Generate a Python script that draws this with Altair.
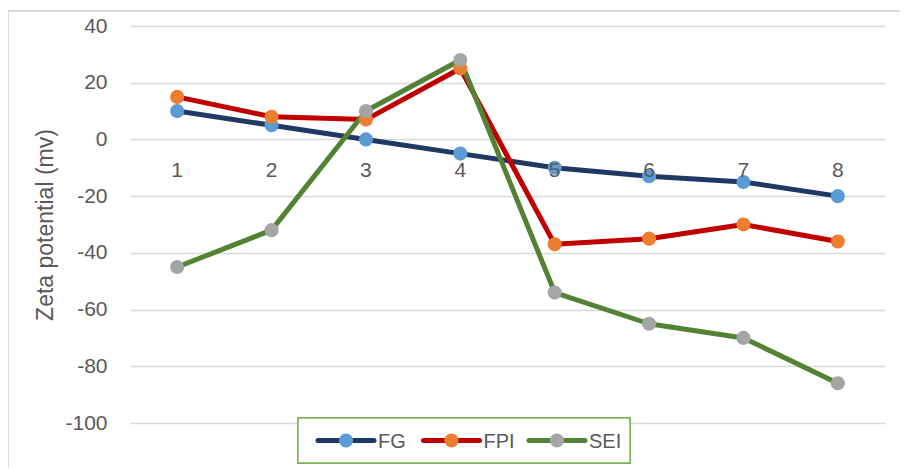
import altair as alt
import pandas as pd

categories = ["1", "2", "3", "4", "5", "6", "7", "8"]
fg = [10, 5, 0, -5, -10, -13, -15, -20]
fpi = [15, 8, 7, 25, -37, -35, -30, -36]
sei = [-45, -32, 10, 28, -54, -65, -70, -86]
series_names = ["FG", "FPI", "SEI"]
line_colors = ["#1f3864", "#c00000", "#548235"]
marker_colors = ["#5b9bd5", "#ed7d31", "#a5a5a5"]
y_ticks = [-100, -80, -60, -40, -20, 0, 20, 40]

rows = []
for name, vals in zip(series_names, [fg, fpi, sei]):
    for i, (c, v) in enumerate(zip(categories, vals)):
        rows.append({"cat": c, "series": name, "value": v, "order": i})
df = pd.DataFrame(rows)
cat_df = pd.DataFrame({"cat": categories})
leg_df = pd.DataFrame({"series": series_names})

W, H = 755, 397
FONT = "Liberation Sans"
GREY = "#595959"

x_enc = alt.X("cat:N", sort=categories, axis=None,
              scale=alt.Scale(paddingInner=0, paddingOuter=0))
y_scale = alt.Scale(domain=[-100, 40], nice=False)
line_scale = alt.Scale(domain=series_names, range=line_colors)
marker_scale = alt.Scale(domain=series_names, range=marker_colors)

base = alt.Chart(df)

lines = base.mark_line(strokeWidth=5, strokeCap="round", strokeJoin="round").encode(
    x=x_enc,
    y=alt.Y("value:Q", scale=y_scale,
            axis=alt.Axis(values=y_ticks, grid=True, gridColor="#d9d9d9", gridWidth=1.5,
                          domain=False, ticks=False, tickSize=0, labelPadding=23,
                          labelExpr="'' + datum.value",
                          labelFontSize=21, labelColor=GREY, labelFont=FONT,
                          title="Zeta potential (mv)", titleFontSize=23,
                          titleFontWeight="normal", titleColor=GREY, titleFont=FONT,
                          titlePadding=7)),
    color=alt.Color("series:N", scale=line_scale, legend=None),
    detail="series:N",
    order="order:Q",
)

points = base.mark_point(filled=True, size=200, opacity=1, strokeWidth=0).encode(
    x=x_enc,
    y=alt.Y("value:Q", scale=y_scale),
    fill=alt.Fill("series:N", scale=marker_scale, legend=None),
)

labels = alt.Chart(cat_df).mark_text(fontSize=21, color=GREY, font=FONT, dy=32).encode(
    x=x_enc,
    y=alt.datum(0, scale=y_scale),
    text="cat:N",
)

main = alt.layer(lines, points, labels)

# legend (drawn from the series names)
LEG_Y = 414.5
leg_x = alt.X("series:N", sort=series_names, axis=None,
              scale=alt.Scale(type="point", domain=series_names, range=[188, 399], padding=0))
leg_base = alt.Chart(leg_df)
leg_box = leg_base.mark_rect(fill="white", stroke="#7fb55a", strokeWidth=1.5).encode(
    x=alt.value(168), x2=alt.value(500), y=alt.value(392), y2=alt.value(437)
)
leg_line = leg_base.mark_rule(strokeWidth=5, strokeCap="round", x2Offset=56).encode(
    x=leg_x, x2=alt.X2("series:N"), y=alt.value(LEG_Y),
    color=alt.Color("series:N", scale=line_scale, legend=None),
)
leg_pt = leg_base.mark_point(filled=True, size=200, opacity=1, strokeWidth=0, xOffset=28).encode(
    x=leg_x, y=alt.value(LEG_Y),
    fill=alt.Fill("series:N", scale=marker_scale, legend=None),
)
leg_txt = leg_base.mark_text(align="left", baseline="middle", xOffset=60, fontSize=20,
                             color=GREY, font=FONT).encode(
    x=leg_x, y=alt.value(LEG_Y + 1), text="series:N",
)
legend = alt.layer(leg_box, leg_line, leg_pt, leg_txt)

border = alt.Chart(cat_df).mark_rect(fill=None, stroke="#d9d9d9", strokeWidth=1.5).encode(
    x=alt.value(-122), x2=alt.value(W + 30), y=alt.value(-15), y2=alt.value(H + 70)
)

chart = alt.layer(border, main, legend).resolve_scale(
    x="independent", color="independent", fill="independent"
).properties(
    width=W, height=H,
    autosize=alt.AutoSizeParams(type="none"),
    padding={"left": 122, "top": 18, "right": 15, "bottom": 45},
).configure_view(stroke=None)

chart.save("out.html", embed_options={"renderer": "svg", "actions": False})
